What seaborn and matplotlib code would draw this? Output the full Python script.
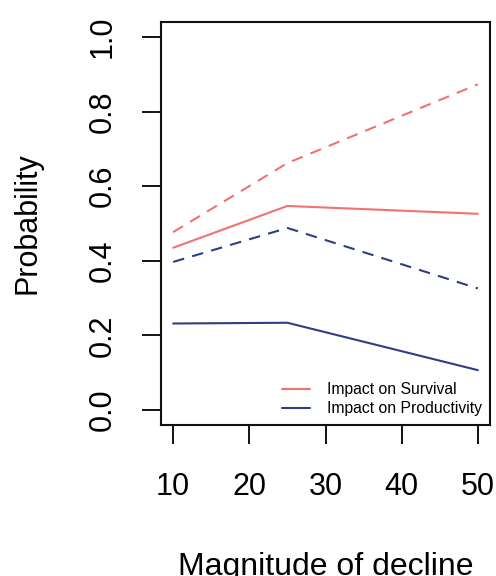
import matplotlib
matplotlib.use('Agg')
import matplotlib.pyplot as plt
import seaborn as sns
import pandas as pd
from matplotlib.lines import Line2D

# Data
magnitude = [10, 25, 50]
survival_solid = [0.435, 0.547, 0.526]
survival_dashed = [0.477, 0.662, 0.873]
productivity_solid = [0.232, 0.234, 0.107]
productivity_dashed = [0.397, 0.488, 0.326]

series_names = ['Impact on Survival', 'Impact on Productivity']
red = '#F07272'
blue = '#2B3F82'

sns.set_style('ticks')
plt.rcParams['font.family'] = ['Liberation Sans', 'DejaVu Sans']
plt.rcParams['text.color'] = 'black'
plt.rcParams['axes.labelcolor'] = 'black'
plt.rcParams['xtick.color'] = 'black'
plt.rcParams['ytick.color'] = 'black'

fig = plt.figure(figsize=(4.96, 5.76), dpi=100)
ax = fig.add_axes([161 / 496, 151 / 576, 329 / 496, 403 / 576])

rows = []
for name, line, vals in [(series_names[0], 'solid', survival_solid),
                         (series_names[0], 'dashed', survival_dashed),
                         (series_names[1], 'solid', productivity_solid),
                         (series_names[1], 'dashed', productivity_dashed)]:
    for x, y in zip(magnitude, vals):
        rows.append({'magnitude': x, 'prob': y, 'impact': name, 'line': line})
df = pd.DataFrame(rows)

sns.lineplot(data=df, x='magnitude', y='prob', hue='impact', style='line',
             palette={series_names[0]: red, series_names[1]: blue},
             dashes={'solid': '', 'dashed': (5.5, 4)},
             linewidth=1.5, legend=False, ax=ax)

ax.set_xlim(8.4, 51.6)
ax.set_ylim(-0.04, 1.04)
ax.set_xticks([10, 20, 30, 40, 50])
ax.set_yticks([0.0, 0.2, 0.4, 0.6, 0.8, 1.0])
ax.set_yticklabels(['0.0', '0.2', '0.4', '0.6', '0.8', '1.0'], rotation=90, va='center')
ax.tick_params(axis='both', labelsize=22, length=14, width=1.3)
ax.tick_params(axis='x', pad=20)
ax.tick_params(axis='y', pad=17)
for sp in ax.spines.values():
    sp.set_visible(True)
    sp.set_linewidth(1.5)
    sp.set_color('#111111')

ax.set_xlabel('Magnitude of decline', fontsize=23, labelpad=36)
ax.set_ylabel('Probability', fontsize=22, labelpad=33)

handles = [Line2D([0], [0], color=red, lw=1.5), Line2D([0], [0], color=blue, lw=1.5)]
ax.legend(handles, series_names, loc='lower right', frameon=False, fontsize=11.3,
          handlelength=1.75, handletextpad=1.1, labelspacing=0.25,
          bbox_to_anchor=(1.018, -0.013))

fig.savefig('out.png', dpi=100)
